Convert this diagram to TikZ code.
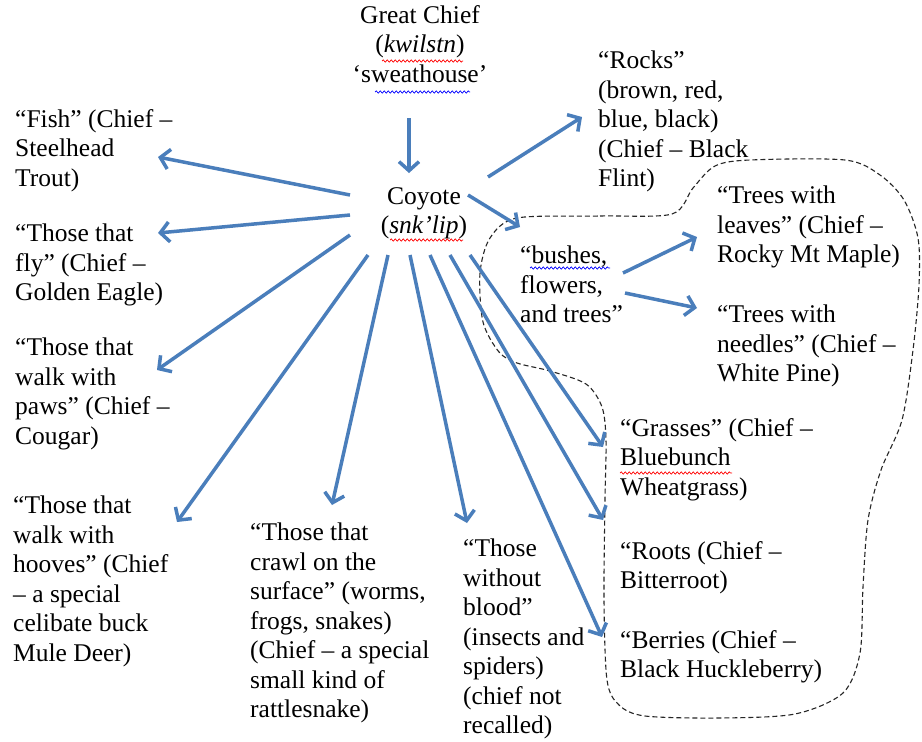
\documentclass[tikz,border=0pt]{standalone}
\usepackage{fontspec}
\setmainfont{Liberation Serif}
\usetikzlibrary{arrows.meta,positioning,calc,decorations.pathmorphing}
\definecolor{Steel}{HTML}{4A7EBB}
\newcommand\labelsize{\fontsize{25.5}{29.5}\selectfont}

\begin{document}
\begin{tikzpicture}[x=1pt,y=-1pt,
    labelstyle/.style={anchor=north west,align=left,inner sep=0pt,font=\labelsize,execute at begin node=\strut},
    linkstyle/.style={draw=Steel,line width=3.5pt,-{Straight Barb[length=9pt,width=20pt]}},
    loopstyle/.style={draw=black!85,line width=1.1pt,dash pattern=on 5pt off 3pt},
    wavestyle/.style={line width=.7pt,decorate,decoration={snake,amplitude=1.1pt,segment length=4pt}}]
    \fill[white] (0,0) rectangle (922,742);
    \useasboundingbox (0,0) rectangle (922,742);
    % dashed outline round the plants
    \draw[loopstyle] plot[smooth cycle,tension=.5] coordinates {(517,218) (600,216) (672,214) (693,188) (715,166) (750,160) (845,160) (880,175) (904,200) (918,238) (919,285) (913,350) (902,420) (881,470) (868,520) (863,587) (860,653) (843,693) (795,714) (720,718) (645,716) (619,705) (607,680) (604,600) (605,500) (606,440) (602,407) (586,384) (550,371) (517,363) (499,352) (483,322) (480,273) (490,238)};
    % text blocks
    \node[labelstyle,anchor=north,align=center] (gc) at (420,5) {Great Chief\\(\textit{kwilstn})\\‘sweathouse’};
    \node[labelstyle,anchor=north,align=center] (coyote) at (424,187) {Coyote\\(\textit{snk’lip})};
    \node[labelstyle] (fish) at (15,109) {“Fish” (Chief --\\Steelhead\\Trout)};
    \node[labelstyle] (fly) at (15,224) {“Those that\\fly” (Chief --\\Golden Eagle)};
    \node[labelstyle] (paws) at (15,338) {“Those that\\walk with\\paws” (Chief --\\Cougar)};
    \node[labelstyle] (hooves) at (13,496) {“Those that\\walk with\\hooves” (Chief\\-- a special\\celibate buck\\Mule Deer)};
    \node[labelstyle] (crawl) at (250,523) {“Those that\\crawl on the\\surface” (worms,\\frogs, snakes)\\(Chief -- a special\\small kind of\\rattlesnake)};
    \node[labelstyle] (blood) at (463,539) {“Those\\without\\blood”\\(insects and\\spiders)\\(chief not\\recalled)};
    \node[labelstyle] (rocks) at (598,51) {“Rocks”\\(brown, red,\\blue, black)\\(Chief -- Black\\Flint)};
    \node[labelstyle] (bushes) at (520,246) {“bushes,\\flowers,\\and trees”};
    \node[labelstyle] (leaves) at (717,186) {“Trees with\\leaves” (Chief --\\Rocky Mt Maple)};
    \node[labelstyle] (needles) at (717,305) {“Trees with\\needles” (Chief --\\White Pine)};
    \node[labelstyle] (grasses) at (620,418) {“Grasses” (Chief --\\Bluebunch\\Wheatgrass)};
    \node[labelstyle] (roots) at (620,541) {“Roots (Chief --\\Bitterroot)};
    \node[labelstyle] (berries) at (620,630) {“Berries (Chief --\\Black Huckleberry)};
    % spelling marks
    \draw[wavestyle,red] ([shift={(-38,56)}]gc.north) -- ++(81,0);
    \draw[wavestyle,blue] ([shift={(-45,87)}]gc.north) -- ++(95,0);
    \draw[wavestyle,red] ([shift={(-34,53)}]coyote.north) -- ++(73,0);
    \draw[wavestyle,blue] ([shift={(10,22)}]bushes.north west) -- ++(80,0);
    \draw[wavestyle,red] ([shift={(0,55)}]grasses.north west) -- ++(112,0);
    % arrows
    \draw[linkstyle] ([shift={(-11,113)}]gc.north) -- ([shift={(-15,-14)}]coyote.north);
    \foreach \sx/\sy/\tgt/\tx/\ty in {-74/8/fish/143/48,-74/28/fly/143/9,-74/48/paws/142/32,
        -56/68/hooves/164/26,-36/68/crawl/82/-18,-14/68/blood/4/-16,6/68/berries/-18/7,
        26/68/roots/-17/-21,46/68/grasses/-17/29,64/-10/rocks/-16/66,44/8/bushes/0/-19}
      \draw[linkstyle] ([shift={(\sx,\sy)}]coyote.north) -- ([shift={(\tx,\ty)}]\tgt.north west);
    \draw[linkstyle] ([shift={(103,27)}]bushes.north west) -- ([shift={(-20,51)}]leaves.north west);
    \draw[linkstyle] ([shift={(105,47)}]bushes.north west) -- ([shift={(-20,3)}]needles.north west);
\end{tikzpicture}
\end{document}
